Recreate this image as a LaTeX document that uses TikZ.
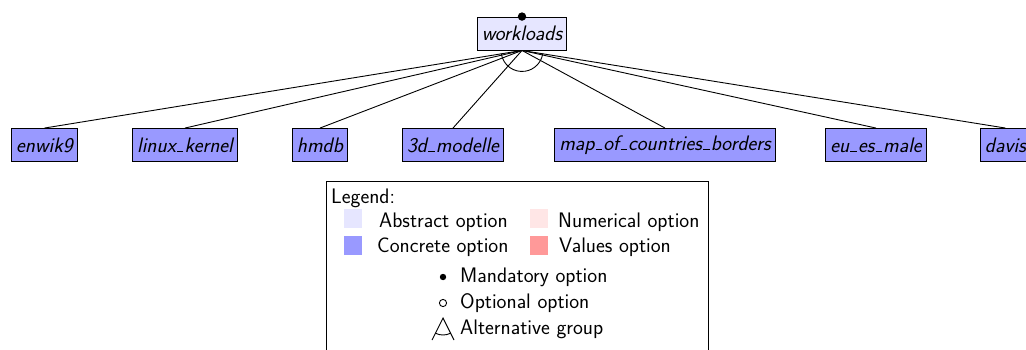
\documentclass[tikz,border=0pt]{standalone}
\usepackage{fontspec}
\usetikzlibrary{calc}
\definecolor{absfill}{RGB}{230,230,255}
\definecolor{confill}{RGB}{153,153,255}
\definecolor{numfill}{RGB}{255,230,230}
\definecolor{valfill}{RGB}{255,153,153}
\newcommand\usc{\leavevmode\kern.06em\vbox{\hrule width.3em height 0.06em}\kern.06em}
\tikzset{
  feat/.style={draw=black, line width=0.9pt, font=\fontsize{21}{25}\selectfont\sffamily\itshape, minimum height=33pt, inner xsep=4.5pt, inner ysep=0pt},
  abstractfeat/.style={feat, fill=absfill},
  concretefeat/.style={feat, fill=confill},
  edge/.style={line width=0.9pt},
  legtext/.style={font=\fontsize{21}{25}\selectfont\sffamily, anchor=base west, inner sep=0pt},
  legsq/.style={minimum width=18pt, minimum height=19pt, inner sep=0pt},
}
\begin{document}
\begin{tikzpicture}[x=1pt, y=-1pt]
\clip (0,0) rectangle (1026,349);
% root
\node[abstractfeat] (root) at (522,33.5) {workloads};
\fill (root.north) circle (4.2pt);
% leaves
\node[concretefeat] (l1) at (44.5,145) {enwik9};
\node[concretefeat] (l2) at (185,145) {linux\usc kernel};
\node[concretefeat] (l3) at (320,145) {hmdb};
\node[concretefeat] (l4) at (453,145) {3d\usc modelle};
\node[concretefeat] (l5) at (665,145) {map\usc of\usc countries\usc borders};
\node[concretefeat] (l6) at (876,145) {eu\usc es\usc male};
\node[concretefeat, anchor=west] (l7) at (980,145) {davis};
\foreach \n in {l1,l2,l3,l4,l5,l6,l7}{
  \draw[edge] (root.south) -- (\n.north);
}
\draw[edge] ($(root.south)+(189:21pt)$) arc[start angle=189, end angle=351, radius=21pt];
% legend
\node[draw, line width=0.9pt, minimum width=382pt, minimum height=200pt, anchor=north west, inner sep=0pt] (legbox) at (326,181) {};
\node[legtext] (legtitle) at (331,203) {Legend:};
\node[legsq, fill=absfill] (sqa) at (353,218) {};
\node[legtext] (ta) at (379,227) {Abstract option};
\node[legsq, fill=numfill] (sqn) at (538.5,218) {};
\node[legtext] (tn) at (558,227) {Numerical option};
\node[legsq, fill=confill] (sqc) at (353,245.5) {};
\node[legtext] (tc) at (377,252.5) {Concrete option};
\node[legsq, fill=valfill] (sqv) at (538.5,245.5) {};
\node[legtext] (tv) at (559,252.5) {Values option};
\fill (443,277) circle (3.2pt);
\node[legtext] (tm) at (460,282) {Mandatory option};
\draw[line width=0.9pt] (443,303) circle (3.6pt);
\node[legtext] (to) at (460,308) {Optional option};
\coordinate (apex) at (443,318);
\draw[line width=0.9pt] (432,340) -- (apex) -- (454,340);
\draw[line width=0.9pt] ($(apex)+(243:17pt)$) arc[start angle=243, end angle=297, radius=17pt];
\node[legtext] (tg) at (460,334) {Alternative group};
\end{tikzpicture}
\end{document}
